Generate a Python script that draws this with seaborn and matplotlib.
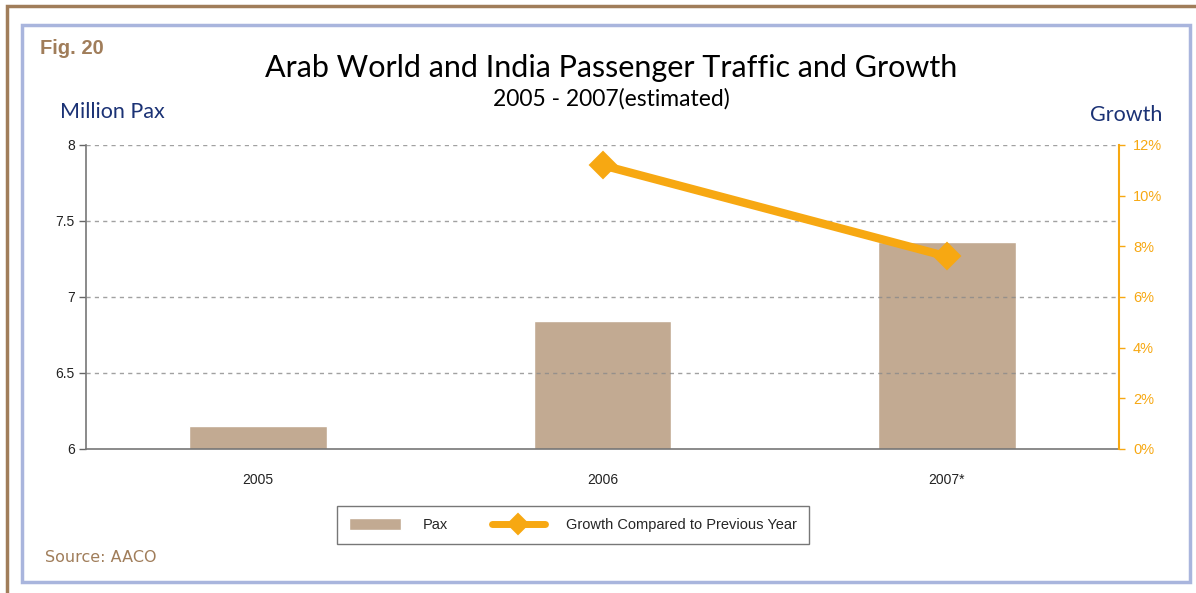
import matplotlib
matplotlib.use("Agg")
import matplotlib.pyplot as plt
from matplotlib.patches import Rectangle
import seaborn as sns
import pandas as pd
import numpy as np

# Data
years = ["2005", "2006", "2007*"]
pax_million = [6.15, 6.84, 7.36]
growth_pct = [np.nan, 11.2, 7.6]
left_ticks = [6, 6.5, 7, 7.5, 8]
right_ticks = [0, 2, 4, 6, 8, 10, 12]

BAR = "#c2aa92"
ORANGE = "#f7a812"
NAVY = "#1b3275"
BROWN = "#a07d5a"
FRAME_BLUE = "#a9b5dd"

sns.set_theme(style="white")
plt.rcParams["font.family"] = ["Liberation Sans", "DejaVu Sans"]

df = pd.DataFrame({"year": years, "pax": pax_million, "growth": growth_pct})

W, H = 1196, 593
fig = plt.figure(figsize=(W / 100, H / 100), dpi=100)

def fx(px):
    return px / W

def fy(py):
    return 1 - py / H

# Page frames: outer brown border and inner blue border
fig.patches.append(Rectangle((fx(7), fy(620)), fx(1230 - 7), (620 - 6) / H,
                             transform=fig.transFigure, fill=False,
                             edgecolor=BROWN, linewidth=2.5, zorder=0))
fig.patches.append(Rectangle((fx(22), fy(582)), fx(1190 - 22), (582 - 25) / H,
                             transform=fig.transFigure, fill=False,
                             edgecolor=FRAME_BLUE, linewidth=2.5, zorder=0))

ax = fig.add_axes([fx(86), fy(449), fx(1119 - 86), (449 - 145) / H])
sns.barplot(data=df, x="year", y="pax", color=BAR, width=0.4, saturation=1,
            ax=ax, label="Pax", zorder=2)
ax.set_ylim(6, 8)
ax.set_xlim(-0.5, 2.5)
ax.set_yticks(left_ticks)
ax.set_yticklabels([f"{t:g}" for t in left_ticks], fontsize=10, color="#222222")
ax.set_xticks(range(len(years)))
ax.set_xticklabels(years, fontsize=10, color="#222222")
ax.set_xticks([0.5, 1.5, 2.5], minor=True)
ax.tick_params(axis="x", which="major", length=0, pad=17)
ax.tick_params(axis="x", which="minor", length=5, width=1, color="#666666", direction="out")
ax.tick_params(axis="y", length=5, width=1, color="#666666", direction="out", pad=3, left=True)
ax.set_xlabel("")
ax.set_ylabel("")
for y in left_ticks[1:]:
    ax.axhline(y, color="#8a8a8a", linewidth=1, linestyle=(0, (3, 3)), alpha=0.8, zorder=3)
for s in ["top", "right"]:
    ax.spines[s].set_visible(False)
for s in ["left", "bottom"]:
    ax.spines[s].set_color("#777777")
    ax.spines[s].set_linewidth(1.2)

ax2 = ax.twinx()
sns.pointplot(data=df, x="year", y="growth", color=ORANGE, markers="D",
              errorbar=None, ax=ax2, label="Growth Compared to Previous Year",
              linewidth=6, markersize=10)
ax2.set_ylim(0, 12)
ax2.set_xlim(-0.5, 2.5)
ax2.set_yticks(right_ticks)
ax2.set_yticklabels([f"{t}%" for t in right_ticks], fontsize=10.5, color=ORANGE)
ax2.tick_params(axis="y", length=4, width=1, color=ORANGE, direction="out", pad=6, right=True)
ax2.set_ylabel("")
ax2.set_xlabel("")
for s in ["top", "left", "bottom"]:
    ax2.spines[s].set_visible(False)
ax2.spines["right"].set_color(ORANGE)
ax2.spines["right"].set_linewidth(1.5)

# Legend combining both series
h1, l1 = ax.get_legend_handles_labels()
h2, l2 = ax2.get_legend_handles_labels()
for a in (ax, ax2):
    if a.get_legend() is not None:
        a.get_legend().remove()
leg = fig.legend(h1 + h2, l1 + l2, loc="center", bbox_to_anchor=(fx(573), fy(525)),
                 ncol=2, frameon=True, fancybox=False, fontsize=10.5,
                 handlelength=3.6, handleheight=0.9, columnspacing=3.0,
                 borderpad=0.8, handletextpad=1.5)
leg.get_frame().set_edgecolor("#555555")
leg.get_frame().set_linewidth(1)
line_handle = leg.legend_handles[1]
line_handle.set_markersize(7)
line_handle.set_linewidth(5)

# Titles and captions
fig.text(fx(611), fy(68), "Arab World and India Passenger Traffic and Growth",
         ha="center", va="center", fontsize=22, family=["Lato", "DejaVu Sans"], color="black")
fig.text(fx(611), fy(99), "2005 - 2007(estimated)", ha="center", va="center",
         fontsize=16.5, family=["Lato", "DejaVu Sans"], color="black")
fig.text(fx(40), fy(48), "Fig. 20", ha="left", va="center", fontsize=14.5,
         fontweight="bold", color=BROWN)
fig.text(fx(60), fy(112), "Million Pax", ha="left", va="center", fontsize=15.5,
         family=["Lato", "DejaVu Sans"], color=NAVY)
fig.text(fx(1162), fy(115), "Growth", ha="right", va="center", fontsize=15.5,
         family=["Lato", "DejaVu Sans"], color=NAVY)
fig.text(fx(45), fy(557), "Source: AACO", ha="left", va="center", fontsize=11.5,
         family=["DejaVu Sans"], color=BROWN)

fig.savefig("out.png", dpi=100)
